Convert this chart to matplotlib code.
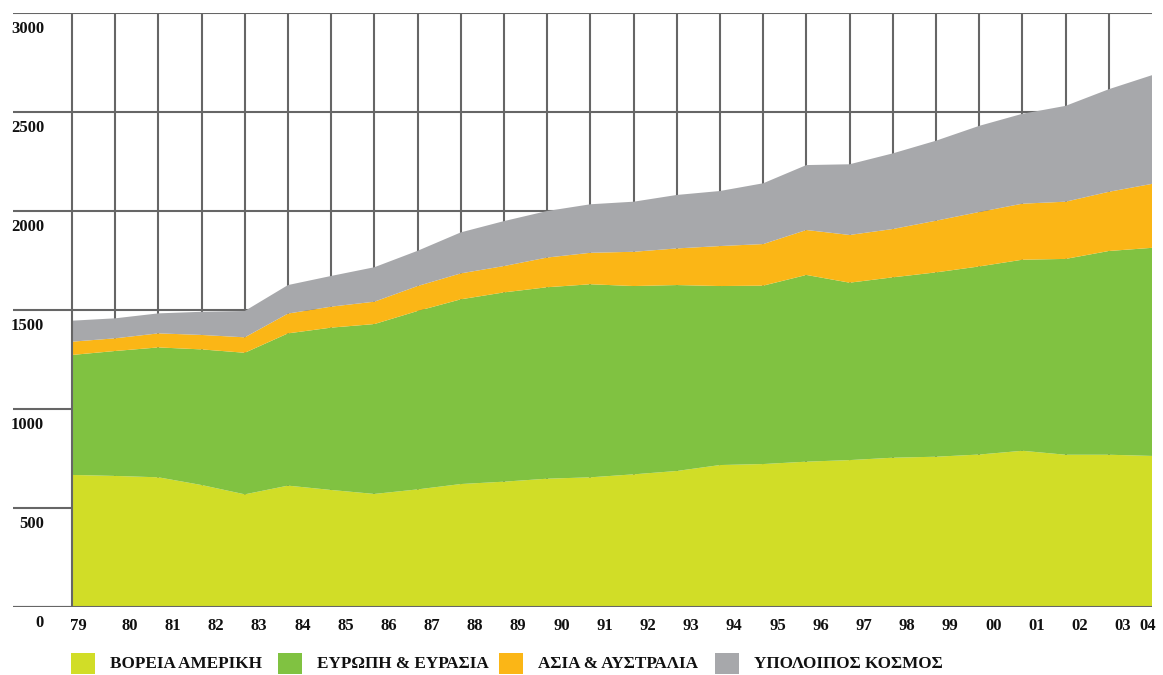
import matplotlib
matplotlib.use("Agg")
import matplotlib.pyplot as plt
from matplotlib.patches import Rectangle
import numpy as np

# years shown on the x axis (two-digit labels)
years = ["79", "80", "81", "82", "83", "84", "85", "86", "87", "88", "89", "90", "91",
         "92", "93", "94", "95", "96", "97", "98", "99", "00", "01", "02", "03", "04"]

# regional values
north_america = [667, 662, 655, 616, 569, 613, 591, 571, 594, 621, 633, 648, 655,
                 670, 687, 717, 722, 734, 742, 754, 759, 770, 789, 769, 769, 763]
europe_eurasia = [606, 631, 656, 685, 715, 769, 820, 858, 901, 933, 956, 967, 975,
                  951, 939, 904, 901, 943, 896, 911, 931, 950, 965, 989, 1029, 1051]
asia_australia = [67, 64, 71, 73, 78, 100, 106, 113, 126, 131, 133, 150, 159,
                  173, 185, 202, 210, 227, 241, 244, 261, 275, 283, 289, 299, 323]
rest_of_world = [106, 101, 101, 117, 133, 144, 155, 174, 178, 207, 227, 235, 245,
                 253, 270, 278, 307, 328, 357, 382, 404, 435, 454, 484, 518, 549]

series_labels = ["ΒΟΡΕΙΑ ΑΜΕΡΙΚΗ", "ΕΥΡΩΠΗ & ΕΥΡΑΣΙΑ", "ΑΣΙΑ & ΑΥΣΤΡΑΛΙΑ", "ΥΠΟΛΟΙΠΟΣ ΚΟΣΜΟΣ"]
colors = ["#D1DD27", "#80C241", "#FBB616", "#A7A8AB"]
y_ticks = [0, 500, 1000, 1500, 2000, 2500, 3000]

W, H = 1163, 675
fig = plt.figure(figsize=(W / 100, H / 100), dpi=100)
font = dict(family="Liberation Serif", weight="bold", color="#111111")

# axes spans the grid lines (which stick out to the left of the data)
left_px, x0_px, x_end_px, right_px = 13, 72, 1152, 1152
bottom_px, top_px = 607, 13
n = len(years)
step = (x_end_px - x0_px) / (n - 1)
ax = fig.add_axes([left_px / W, (H - bottom_px) / H,
                   (right_px - left_px) / W, (bottom_px - top_px) / H])
ax.set_xlim(-(x0_px - left_px) / step, n - 1 + (right_px - x_end_px) / step)
ax.set_ylim(0, 3000)
ax.axis("off")

x = np.arange(n)
grid_kw = dict(color="#666666", linewidth=1.5)
for v in y_ticks:
    ax.axhline(v, zorder=1, **grid_kw)
for i in range(n - 1):
    ax.axvline(i, zorder=3 if i == 0 else 1, **grid_kw)
ax.axhline(0, zorder=3, **grid_kw)

ax.stackplot(x, north_america, europe_eurasia, asia_australia, rest_of_world,
             colors=colors, linewidth=0, zorder=2)

# y labels sit just under their grid lines
for v in y_ticks:
    ax.annotate(str(v), xy=((44 - left_px) / (right_px - left_px), v),
                xycoords=("axes fraction", "data"), xytext=(0, -16),
                textcoords="offset pixels", ha="right", va="center", fontsize=12, **font)

# x labels are shifted a little right of their grid lines
for i, lbl in enumerate(years):
    off = 0.33
    if i == 0:
        off = 0.14
    elif i == n - 1:
        off = -0.1
    ax.annotate(lbl, xy=(i + off, 0), xycoords="data", xytext=(0, -19),
                textcoords="offset pixels", ha="center", va="center", fontsize=12, **font)

# legend row along the bottom
box_x = [71, 278, 499, 715]
for bx, c, lbl in zip(box_x, colors, series_labels):
    fig.patches.append(Rectangle((bx / W, (H - 674) / H), 24 / W, 21 / H,
                                 transform=fig.transFigure, facecolor=c, edgecolor="none"))
    fig.text((bx + 39) / W, (H - 664) / H, lbl, ha="left", va="center", fontsize=12.3, **font)

fig.savefig("out.png", dpi=100)
